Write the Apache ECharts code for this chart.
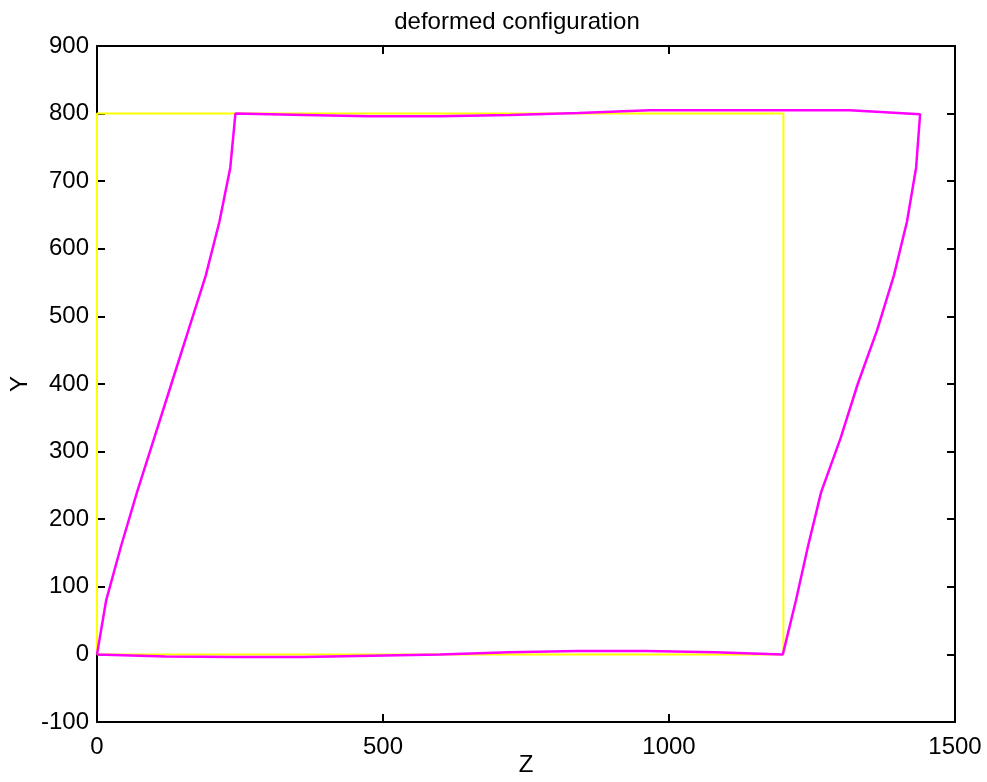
<!DOCTYPE html>
<html>
<head>
<meta charset="utf-8">
<script src="https://cdn.jsdelivr.net/npm/echarts@6/dist/echarts.min.js"></script>
<style>
  html, body { margin: 0; padding: 0; background: #fff; }
  #main { width: 987px; height: 782px; }
</style>
</head>
<body>
<div id="main"></div>
<script>
// undeformed outline (yellow)
const refZ = [0, 0, 1200, 1200, 0];
const refY = [0, 800, 800, 0, 0];

// deformed outline (magenta): left edge up, top edge right, right edge down, bottom edge back
const leftZ = [0, 16, 42, 70, 100, 130, 160, 190, 214, 233, 242];
const leftY = [0, 80, 160, 240, 320, 400, 480, 560, 640, 720, 800];
const topZ = [362, 476, 599, 722, 842, 966, 1082, 1200, 1316, 1439];
const topY = [798, 796, 796, 798, 801, 805, 805, 805, 805, 799];
const rightZ = [1432, 1416, 1393, 1364, 1330, 1300, 1266, 1243, 1222, 1199];
const rightY = [720, 640, 560, 480, 400, 320, 240, 160, 80, 0];
const bottomZ = [1080, 960, 840, 720, 600, 480, 360, 240, 120, 0];
const bottomY = [3, 5, 5, 3, 0, -2, -4, -4, -3, 0];

function pairs(xs, ys) {
    return xs.map((x, i) => [x, ys[i]]);
}

const defData = [].concat(
    pairs(leftZ, leftY),
    pairs(topZ, topY),
    pairs(rightZ, rightY),
    pairs(bottomZ, bottomY)
);

const chart = echarts.init(document.getElementById('main'));

const font = 'Liberation Sans, Arial, sans-serif';
const boxLine = { show: true, onZero: false, lineStyle: { color: '#000', width: 2 } };
const inTick = { show: true, inside: true, length: 8, lineStyle: { color: '#000', width: 2 } };

chart.setOption({
    animation: false,
    backgroundColor: '#fff',
    title: {
        text: 'deformed configuration',
        left: 512,
        top: 5,
        textAlign: 'center',
        textStyle: { fontFamily: font, fontWeight: 'normal', fontSize: 24, color: '#000' }
    },
    grid: { left: 97, right: 32, top: 46, bottom: 60, outerBoundsMode: 'none', containLabel: false },
    xAxis: [
        {
            type: 'value', min: 0, max: 1500, interval: 500,
            name: 'Z', nameLocation: 'middle', nameGap: 31, nameMoveOverlap: false,
            nameTextStyle: { fontFamily: font, fontSize: 24, color: '#000' },
            axisLine: boxLine, axisTick: inTick, splitLine: { show: false },
            axisLabel: { fontFamily: font, fontSize: 24, color: '#000', margin: 13,
                formatter: v => String(v) }
        },
        {
            type: 'value', min: 0, max: 1500, interval: 500, position: 'top',
            axisLine: boxLine, axisTick: inTick, splitLine: { show: false },
            axisLabel: { show: false }
        }
    ],
    yAxis: [
        {
            type: 'value', min: -100, max: 900, interval: 100,
            name: 'Y', nameLocation: 'middle', nameGap: 65, nameMoveOverlap: false,
            nameTextStyle: { fontFamily: font, fontSize: 24, color: '#000' },
            axisLine: boxLine, axisTick: inTick, splitLine: { show: false },
            axisLabel: { fontFamily: font, fontSize: 24, color: '#000', margin: 8,
                formatter: v => String(v) }
        },
        {
            type: 'value', min: -100, max: 900, interval: 100, position: 'right',
            axisLine: boxLine, axisTick: inTick, splitLine: { show: false },
            axisLabel: { show: false }
        }
    ],
    series: [
        {
            type: 'line', name: 'reference',
            data: pairs(refZ, refY),
            showSymbol: false, symbol: 'none',
            lineStyle: { color: '#ffff00', width: 2 },
            z: 2
        },
        {
            type: 'line', name: 'deformed',
            data: defData,
            showSymbol: false, symbol: 'none',
            lineStyle: { color: '#ff00ff', width: 2.5 },
            z: 3
        }
    ]
});
</script>
</body>
</html>
